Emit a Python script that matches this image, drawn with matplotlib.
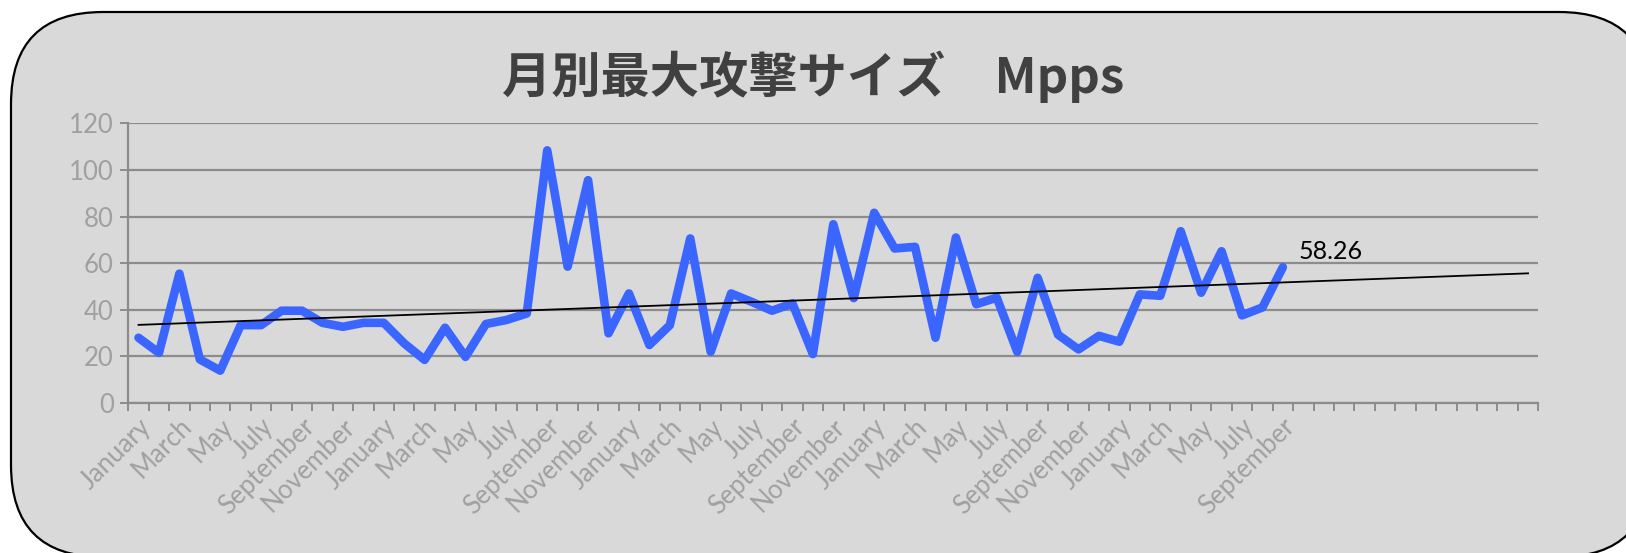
import numpy as np
import matplotlib
matplotlib.use("Agg")
import matplotlib.pyplot as plt
from matplotlib.patches import FancyBboxPatch
import matplotlib.transforms as mtransforms

# Monthly peak attack size (Mpps), January of year 1 through September of year 5
month_names = ["January", "February", "March", "April", "May", "June",
               "July", "August", "September", "October", "November", "December"]

year1 = [28.0, 21.5, 55.5, 18.7, 13.9, 33.4, 33.4, 39.6, 39.6, 34.4, 32.7, 34.4]
year2 = [34.4, 25.6, 18.5, 32.3, 19.8, 33.9, 35.6, 38.4, 108.4, 58.5, 95.6, 29.9]
year3 = [47.0, 24.9, 33.4, 70.6, 22.0, 47.0, 43.4, 39.6, 42.7, 21.0, 76.7, 45.0]
year4 = [81.6, 66.3, 67.0, 28.0, 71.0, 42.4, 45.2, 22.0, 53.7, 29.3, 23.0, 28.8]
year5 = [26.3, 46.6, 46.0, 73.7, 47.3, 65.1, 37.6, 41.0, 58.26]

values = year1 + year2 + year3 + year4 + year5
n_points = len(values)
forecast_periods = 12                      # trendline projected forward
n_categories = n_points + forecast_periods

categories = [month_names[i % 12] for i in range(n_points)] + [""] * forecast_periods
y_ticks = [0, 20, 40, 60, 80, 100, 120]
title = "月別最大攻撃サイズ\u3000Mpps"
last_label = "58.26"

W, H = 1626, 553
fig = plt.figure(figsize=(W / 100, H / 100), dpi=100)
fig.patch.set_facecolor("white")

# rounded chart frame
bg = fig.add_axes([0, 0, 1, 1])
bg.set_xlim(0, W)
bg.set_ylim(H, 0)
bg.axis("off")
frame = FancyBboxPatch((11, 12), 1640, 545,
                       boxstyle="round,pad=0,rounding_size=92",
                       facecolor="#D9D9D9", edgecolor="black", linewidth=1.6)
bg.add_patch(frame)

# plot area
left, right, top, bottom = 128.3, 1538.3, 123.3, 403.0
ax = fig.add_axes([left / W, (H - bottom) / H, (right - left) / W, (bottom - top) / H])
ax.set_facecolor("none")

x = np.arange(n_points)
ax.plot(x, values, color="#3A66FF", linewidth=6.2,
        solid_joinstyle="round", solid_capstyle="round", zorder=3)

# linear trendline
slope, intercept = np.polyfit(x, values, 1)
xt = np.array([0, n_categories - 1])
ax.plot(xt, slope * xt + intercept, color="black", linewidth=1.3, zorder=4)

ax.annotate(last_label, xy=(x[-1], values[-1]), xytext=(11, 11),
            textcoords="offset points", ha="left", va="center",
            fontsize=18, color="black", family=["Lato", "DejaVu Sans"])

ax.set_xlim(-0.5, n_categories - 0.5)
ax.set_ylim(0, 120)

grid_c = "#8C8C8C"
label_c = "#A0A0A0"
ax.set_yticks(y_ticks)
ax.set_yticklabels([str(v) for v in y_ticks], fontsize=18.5, color=label_c,
                   family=["Lato", "DejaVu Sans"])
ax.yaxis.grid(True, color=grid_c, linewidth=1.6, zorder=1)
ax.set_axisbelow(True)
ax.tick_params(axis="y", direction="out", length=5.5, width=1.4, color=grid_c, pad=5)

label_idx = list(range(0, n_points, 2))
ax.set_xticks(label_idx)
ax.set_xticklabels([categories[i] for i in label_idx], rotation=45, ha="right",
                   va="center", rotation_mode="anchor", fontsize=18.5, color=label_c,
                   family=["Lato", "DejaVu Sans"])
ax.tick_params(axis="x", which="major", length=0, pad=14)
offset = mtransforms.ScaledTranslation(6 / 72, 0, fig.dpi_scale_trans)
for lbl in ax.get_xticklabels():
    lbl.set_transform(lbl.get_transform() + offset)
ax.set_xticks(np.arange(-0.5, n_categories, 1), minor=True)
ax.tick_params(axis="x", which="minor", direction="out", length=5.5, width=1.4, color=grid_c)

for s in ["top", "right"]:
    ax.spines[s].set_visible(False)
for s in ["left", "bottom"]:
    ax.spines[s].set_color(grid_c)
    ax.spines[s].set_linewidth(1.6)

fig.text(813 / W, 1 - 77 / H, title, ha="center", va="center", fontsize=35.5,
         fontweight="bold", color="#404040",
         family=["Noto Sans CJK JP", "DejaVu Sans"])

fig.savefig("out.png", dpi=100, facecolor="white")
